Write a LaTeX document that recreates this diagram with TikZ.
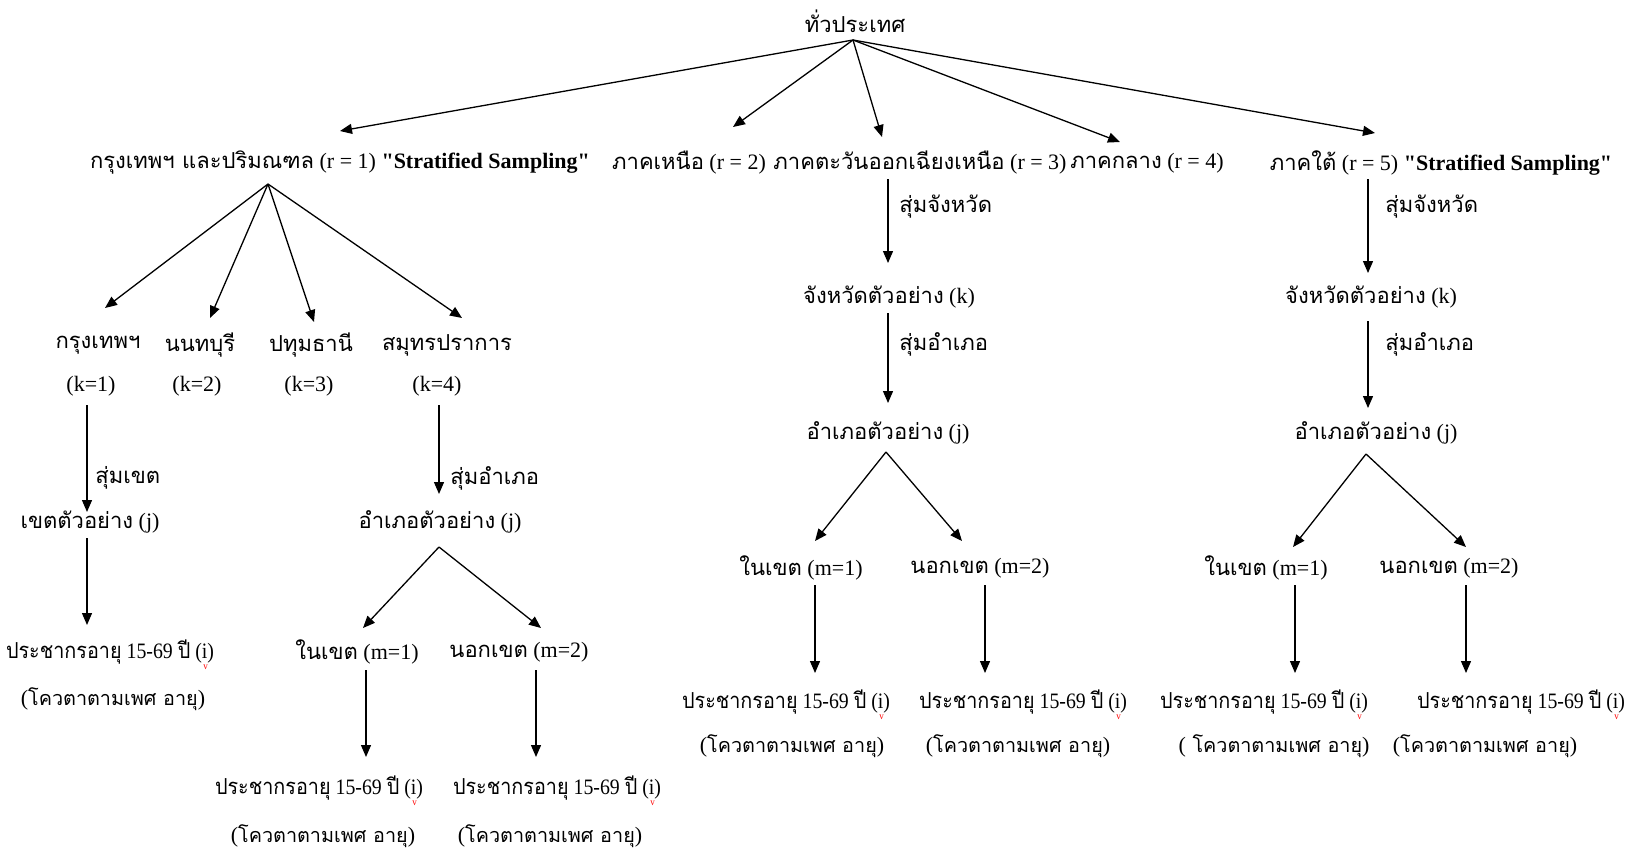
\documentclass[tikz,border=0pt]{standalone}
\usepackage{fontspec}
\usepackage{graphicx}
\setmainfont{Liberation Serif}[Ligatures=TeXOff]
\newfontfamily\thai[Script=Thai]{Loma}
\newfontfamily\thain[Script=Thai,Scale=0.9]{Loma}
\usetikzlibrary{arrows.meta}
\newcommand\imark{(i\llap{\raisebox{-1.1ex}[0pt][0pt]{\color{red}\fontsize{5}{5}\selectfont v\kern-0.3pt}})}
\newcommand\pop{\scalebox{0.9}[1]{{\thai ประชากรอายุ} 15-69 {\thai ปี} \imark}}
\newcommand\quota{({\thain โควตาตามเพศ อายุ})}
\begin{document}
\begin{tikzpicture}[x=0.5pt,y=-0.5pt,
  lbl/.style={inner sep=0pt, font=\fontsize{11}{13}\selectfont},
  lw/.style={lbl, anchor=west},
  arr/.style={-{Triangle[length=6pt,width=5pt]}, line width=0.65pt},
  ln/.style={line width=0.65pt}]
\useasboundingbox (0,0) rectangle (1648,852);
% top
\node[lbl] (top) at (855,21) {\thai ทั่วประเทศ};
\coordinate (src) at (853,40);
% regions
\node[lbl] (r1) at (340,163) {{\thai กรุงเทพฯ และปริมณฑล} (r = 1) \textbf{"Stratified Sampling"}};
\node[lbl] (r2) at (689,163) {{\thai ภาคเหนือ} (r = 2)};
\node[lbl] (r3) at (920,163) {{\thai ภาคตะวันออกเฉียงเหนือ} (r = 3)};
\node[lbl] (r4) at (1147,163) {{\thai ภาคกลาง} (r = 4)};
\node[lbl] (r5) at (1441,163) {{\thai ภาคใต้} (r = 5) \textbf{"Stratified Sampling"}};
\coordinate (t1) at (340,131);
\coordinate (t2) at (733,127);
\coordinate (t3) at (882,137);
\coordinate (t4) at (1120,142);
\coordinate (t5) at (1375,133);
\foreach \t in {t1,t2,t3,t4,t5} \draw[arr] (src) -- (\t);
% Bangkok & vicinity
\coordinate (bsrc) at (268,184);
\node[lbl] (b1) at (98,345) {\thai กรุงเทพฯ};
\node[lbl] (b2) at (200,345) {\thai นนทบุรี};
\node[lbl] (b3) at (311,345) {\thai ปทุมธานี};
\node[lbl] (b4) at (447,345) {\thai สมุทรปราการ};
\node[lbl] (k1) at (91,386) {(k=1)};
\node[lbl] (k2) at (197,386) {(k=2)};
\node[lbl] (k3) at (309,386) {(k=3)};
\node[lbl] (k4) at (437,386) {(k=4)};
\coordinate (bt1) at (105,308);
\coordinate (bt2) at (210,318);
\coordinate (bt3) at (314,322);
\coordinate (bt4) at (462,318);
\foreach \t in {bt1,bt2,bt3,bt4} \draw[arr] (bsrc) -- (\t);
% chain k=1
\coordinate (k1s) at (87,405); \coordinate (j1n) at (87,512);
\draw[arr] (k1s) -- (j1n);
\node[lw] (s1) at (95,478) {\thai สุ่มเขต};
\node[lbl] (j1) at (90,522) {{\thai เขตตัวอย่าง} (j)};
\coordinate (j1s) at (87,538); \coordinate (p1n) at (87,625);
\draw[arr] (j1s) -- (p1n);
\node[lbl] (p1) at (110,652) {\pop};
\node[lbl] (q1) at (113,699) {\quota};
% chain k=4
\coordinate (k4s) at (439,405); \coordinate (a4n) at (439,494);
\draw[arr] (k4s) -- (a4n);
\node[lw] (s4) at (450,478) {\thai สุ่มอำเภอ};
\node[lbl] (a4) at (440,522) {{\thai อำเภอตัวอย่าง} (j)};
\coordinate (a4s) at (439,547);
\coordinate (m41n) at (363,628); \coordinate (m42n) at (541,628);
\draw[arr] (a4s) -- (m41n); \draw[arr] (a4s) -- (m42n);
\node[lbl] (m41) at (357,652) {{\thai ในเขต} (m=1)};
\node[lbl] (m42) at (519,652) {{\thai นอกเขต} (m=2)};
\coordinate (m41s) at (366,670); \coordinate (p41n) at (366,757);
\coordinate (m42s) at (536,670); \coordinate (p42n) at (536,757);
\draw[arr] (m41s) -- (p41n); \draw[arr] (m42s) -- (p42n);
\node[lbl] (p41) at (319,788) {\pop};
\node[lbl] (p42) at (557,788) {\pop};
\node[lbl] (q41) at (323,836) {\quota};
\node[lbl] (q42) at (550,836) {\quota};
% chain r=3
\coordinate (r3s) at (888,179); \coordinate (c3n) at (888,263);
\draw[arr] (r3s) -- (c3n);
\node[lw] (s31) at (899,207) {\thai สุ่มจังหวัด};
\node[lbl] (c3) at (889,297) {{\thai จังหวัดตัวอย่าง} (k)};
\coordinate (c3s) at (888,313); \coordinate (a3n) at (888,403);
\draw[arr] (c3s) -- (a3n);
\node[lw] (s32) at (899,344) {\thai สุ่มอำเภอ};
\node[lbl] (a3) at (888,433) {{\thai อำเภอตัวอย่าง} (j)};
\coordinate (a3s) at (886,452);
\coordinate (m31n) at (815,541); \coordinate (m32n) at (962,541);
\draw[arr] (a3s) -- (m31n); \draw[arr] (a3s) -- (m32n);
\node[lbl] (m31) at (801,568) {{\thai ในเขต} (m=1)};
\node[lbl] (m32) at (980,568) {{\thai นอกเขต} (m=2)};
\coordinate (m31s) at (815,585); \coordinate (p31n) at (815,673);
\coordinate (m32s) at (985,585); \coordinate (p32n) at (985,673);
\draw[arr] (m31s) -- (p31n); \draw[arr] (m32s) -- (p32n);
\node[lbl] (p31) at (786,702) {\pop};
\node[lbl] (p32) at (1023,702) {\pop};
\node[lbl] (q31) at (792,746) {\quota};
\node[lbl] (q32) at (1018,746) {\quota};
% chain r=5
\coordinate (r5s) at (1368,179); \coordinate (c5n) at (1368,273);
\draw[arr] (r5s) -- (c5n);
\node[lw] (s51) at (1385,207) {\thai สุ่มจังหวัด};
\node[lbl] (c5) at (1371,297) {{\thai จังหวัดตัวอย่าง} (k)};
\coordinate (c5s) at (1368,321); \coordinate (a5n) at (1368,408);
\draw[arr] (c5s) -- (a5n);
\node[lw] (s52) at (1385,344) {\thai สุ่มอำเภอ};
\node[lbl] (a5) at (1376,433) {{\thai อำเภอตัวอย่าง} (j)};
\coordinate (a5s) at (1366,454);
\coordinate (m51n) at (1293,547); \coordinate (m52n) at (1466,547);
\draw[arr] (a5s) -- (m51n); \draw[arr] (a5s) -- (m52n);
\node[lbl] (m51) at (1266,568) {{\thai ในเขต} (m=1)};
\node[lbl] (m52) at (1449,568) {{\thai นอกเขต} (m=2)};
\coordinate (m51s) at (1295,585); \coordinate (p51n) at (1295,673);
\coordinate (m52s) at (1466,585); \coordinate (p52n) at (1466,673);
\draw[arr] (m51s) -- (p51n); \draw[arr] (m52s) -- (p52n);
\node[lbl] (p51) at (1264,702) {\pop};
\node[lbl] (p52) at (1521,702) {\pop};
\node[lbl] (q51) at (1274,746) {({\thain\ โควตาตามเพศ อายุ})};
\node[lbl] (q52) at (1485,746) {\quota};
\end{tikzpicture}
\end{document}
